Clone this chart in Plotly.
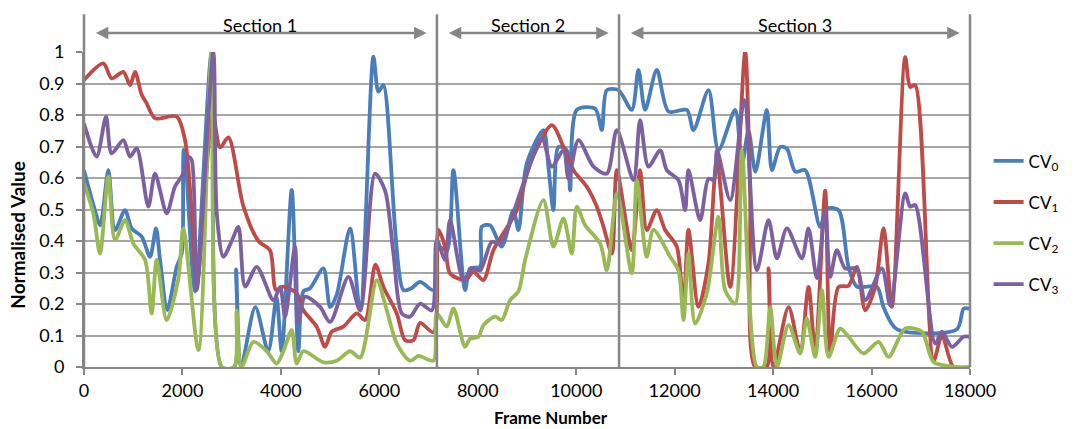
import plotly.graph_objects as go

# ---- data -------------------------------------------------------------
cv0_frames = [0, 200, 330, 494, 630, 833, 969, 1172, 1341, 1463, 1545, 1694, 1883, 1984, 2010,
              2025, 2060, 2256, 2594, 2800, 3050, 3090, 3190, 3480, 3743, 3910, 4016, 4220,
              4355, 4457, 4592, 4863, 5000, 5135, 5405, 5609, 5880, 5981, 6083, 6490, 6650,
              6828, 7100, 7200, 7370, 7505, 7742, 7844, 8047, 8081, 8250, 8487, 8724, 8826,
              8995, 9334, 9435, 9537, 9639, 9808, 9876, 10012, 10385, 10520, 10622, 10859,
              11129, 11264, 11400, 11637, 11874, 12247, 12382, 12687, 12890, 13229, 13365,
              13500, 13640, 13873, 13975, 14145, 14280, 14450, 14651, 14956, 15092, 15329,
              15532, 15702, 16108, 16243, 16514, 17734, 17870, 18000]
cv0_values = [0.625, 0.51, 0.45, 0.625, 0.435, 0.498, 0.44, 0.414, 0.35, 0.44, 0.34, 0.181, 0.318,
              0.36, 0.44, 0.69, 0.66, 0.24, 1.0, 0.0, 0.0, 0.31, 0.0, 0.19, 0.05, 0.22, 0.05,
              0.562, 0.05, 0.24, 0.25, 0.313, 0.19, 0.23, 0.44, 0.18, 0.985, 0.874, 0.895,
              0.244, 0.25, 0.27, 0.244, 0.382, 0.37, 0.625, 0.244, 0.313, 0.318, 0.445, 0.45,
              0.382, 0.498, 0.435, 0.646, 0.752, 0.636, 0.498, 0.699, 0.688, 0.561, 0.816,
              0.82, 0.752, 0.879, 0.879, 0.816, 0.943, 0.816, 0.943, 0.811, 0.816, 0.752,
              0.879, 0.688, 0.816, 0.64, 0.75, 0.62, 0.816, 0.625, 0.699, 0.693, 0.62, 0.625,
              0.445, 0.503, 0.498, 0.318, 0.255, 0.255, 0.19, 0.12, 0.12, 0.185, 0.185]

cv1_frames = [0, 393, 562, 799, 935, 1036, 1172, 1273, 1443, 1883, 2053, 2200, 2290, 2620, 2764,
              2934, 3238, 3543, 3780, 3900, 4050, 4321, 4457, 4728, 4897, 5033, 5270, 5541,
              5711, 5920, 6083, 6354, 6524, 6693, 6828, 7100, 7200, 7336, 7437, 7742, 7912,
              8115, 8318, 8793, 9064, 9504, 9741, 9944, 10215, 10419, 10555, 10724, 10825,
              11129, 11298, 11433, 11637, 11806, 12043, 12179, 12280, 12484, 12687, 12857,
              13128, 13432, 13533, 13635, 13870, 13907, 14009, 14314, 14550, 14719, 14855,
              15058, 15160, 15329, 15532, 15702, 15871, 16074, 16243, 16413, 16684, 16785,
              16887, 17260, 17430, 17666, 18000]
cv1_values = [0.911, 0.964, 0.916, 0.937, 0.895, 0.937, 0.864, 0.837, 0.79, 0.795, 0.72, 0.46,
              0.255, 0.8, 0.697, 0.729, 0.51, 0.40, 0.37, 0.245, 0.255, 0.234, 0.18, 0.128,
              0.064, 0.112, 0.128, 0.17, 0.149, 0.325, 0.254, 0.17, 0.085, 0.085, 0.14, 0.11,
              0.435, 0.382, 0.297, 0.276, 0.302, 0.276, 0.371, 0.498, 0.646, 0.768, 0.699,
              0.625, 0.572, 0.509, 0.445, 0.36, 0.625, 0.371, 0.625, 0.435, 0.498, 0.435,
              0.382, 0.191, 0.435, 0.191, 0.329, 0.657, 0.254, 1.0, 0.55, 0.0, 0.0, 0.313,
              0.0, 0.19, 0.05, 0.254, 0.05, 0.56, 0.05, 0.254, 0.258, 0.318, 0.18, 0.254,
              0.44, 0.191, 0.984, 0.889, 0.895, 0.02, 0.10, 0.0, 0.0]

cv2_frames = [0, 190, 325, 494, 630, 833, 1003, 1240, 1375, 1477, 1680, 1916, 2018, 2324, 2594,
              2800, 3050, 3100, 3200, 3443, 3714, 3915, 4050, 4220, 4321, 4457, 4863, 5135,
              5405, 5609, 5948, 6151, 6354, 6625, 6800, 7100, 7166, 7370, 7505, 7742, 7844,
              8013, 8115, 8352, 8487, 8656, 8826, 8962, 9334, 9537, 9741, 9910, 10012, 10182,
              10487, 10622, 10830, 11129, 11230, 11433, 11569, 11908, 12077, 12179, 12280,
              12416, 12653, 12890, 13025, 13229, 13365, 13670, 13800, 13941, 14077, 14314,
              14550, 14685, 14855, 14990, 15126, 15363, 15532, 15837, 16142, 16345, 16684,
              17023, 17260, 17734, 18000]
cv2_values = [0.583, 0.488, 0.36, 0.605, 0.403, 0.466, 0.392, 0.34, 0.17, 0.34, 0.149, 0.28,
              0.44, 0.054, 1.0, 0.0, 0.0, 0.18, 0.0, 0.08, 0.05, 0.011, 0.05, 0.117, 0.011,
              0.05, 0.015, 0.02, 0.05, 0.03, 0.276, 0.18, 0.074, 0.02, 0.035, 0.02, 0.17,
              0.128, 0.186, 0.064, 0.09, 0.096, 0.133, 0.16, 0.149, 0.212, 0.24, 0.34, 0.53,
              0.382, 0.472, 0.36, 0.509, 0.45, 0.392, 0.307, 0.551, 0.297, 0.593, 0.35,
              0.435, 0.35, 0.307, 0.149, 0.36, 0.138, 0.234, 0.477, 0.244, 0.201, 0.688, 0.0,
              0.0, 0.19, 0.0, 0.133, 0.043, 0.154, 0.032, 0.244, 0.032, 0.122, 0.096, 0.043,
              0.08, 0.032, 0.122, 0.112, 0.016, 0.0, 0.0]

cv3_frames = [0, 257, 447, 562, 799, 935, 1071, 1307, 1443, 1680, 1849, 2018, 2120, 2188, 2290,
              2628, 2697, 2832, 3001, 3137, 3272, 3509, 3849, 3985, 4084, 4287, 4355, 4491,
              4795, 5000, 5372, 5609, 5914, 6117, 6286, 6456, 6625, 6828, 7066, 7166, 7336,
              7437, 7708, 7878, 8047, 8284, 8453, 8928, 9301, 9504, 9741, 9842, 10046, 10351,
              10622, 10825, 11163, 11298, 11467, 11705, 11840, 12077, 12213, 12280, 12518,
              12687, 12800, 12860, 13128, 13412, 13670, 13907, 14077, 14280, 14583, 14719,
              14889, 15058, 15160, 15295, 15464, 15702, 15871, 16210, 16379, 16684, 16785,
              16887, 17294, 17430, 17633, 17870, 18000]
cv3_values = [0.773, 0.668, 0.795, 0.678, 0.72, 0.668, 0.694, 0.509, 0.614, 0.488, 0.573, 0.614,
              0.668, 0.657, 0.245, 1.0, 0.488, 0.35, 0.40, 0.445, 0.255, 0.318, 0.212, 0.254,
              0.16, 0.382, 0.143, 0.223, 0.191, 0.143, 0.286, 0.18, 0.614, 0.56, 0.36, 0.17,
              0.16, 0.201, 0.18, 0.403, 0.34, 0.466, 0.276, 0.313, 0.307, 0.397, 0.392, 0.583,
              0.726, 0.636, 0.688, 0.598, 0.72, 0.636, 0.614, 0.752, 0.593, 0.784, 0.636,
              0.688, 0.625, 0.593, 0.498, 0.625, 0.466, 0.598, 0.593, 0.688, 0.53, 0.847,
              0.307, 0.466, 0.345, 0.44, 0.345, 0.44, 0.282, 0.498, 0.286, 0.371, 0.313,
              0.313, 0.212, 0.313, 0.196, 0.551, 0.509, 0.514, 0.074, 0.112, 0.064, 0.096,
              0.096]

series_names = ["CV<sub>0</sub>", "CV<sub>1</sub>", "CV<sub>2</sub>", "CV<sub>3</sub>"]
series_colors = ["#4A7EBB", "#BE4B48", "#98B954", "#7D60A0"]

section_bounds = [0, 7170, 10870, 18000]
section_labels = ["Section 1", "Section 2", "Section 3"]

x_ticks = [0, 2000, 4000, 6000, 8000, 10000, 12000, 14000, 16000, 18000]
X_RANGE = [0, 18000]
Y_RANGE = [0, 1]

# ---- figure -----------------------------------------------------------
FONT = "Lato, 'Open Sans', sans-serif"
GRAY = "#868686"

fig = go.Figure()
all_frames = [cv0_frames, cv1_frames, cv2_frames, cv3_frames]
all_values = [cv0_values, cv1_values, cv2_values, cv3_values]
for name, color, xs, ys in zip(series_names, series_colors, all_frames, all_values):
    fig.add_trace(go.Scatter(
        x=xs, y=ys, name=name, mode="lines",
        line=dict(color=color, width=3.8, shape="spline", smoothing=0.8),
        legendgroup=name,
    ))


def to_paper_x(v):
    return (v - X_RANGE[0]) / (X_RANGE[1] - X_RANGE[0])


# vertical section dividers, reaching above the plotting area
shapes = []
for b in section_bounds:
    shapes.append(dict(type="line", xref="paper", yref="paper",
                       x0=to_paper_x(b), x1=to_paper_x(b), y0=0, y1=1.12,
                       line=dict(color=GRAY, width=2.5), layer="above"))

# double-headed arrows and section titles
annotations = []
pad = 210
for i, label in enumerate(section_labels):
    a, b = section_bounds[i], section_bounds[i + 1]
    annotations.append(dict(
        x=b - pad, y=1.06, xref="x", yref="paper",
        ax=a + pad, ay=0, axref="x", ayref="pixel",
        text="", showarrow=True, arrowside="end+start",
        arrowhead=2, startarrowhead=2, arrowsize=1, startarrowsize=1,
        arrowwidth=2.5, arrowcolor=GRAY, standoff=0, startstandoff=0,
    ))
    annotations.append(dict(
        x=(a + b) / 2, y=1.085, xref="x", yref="paper",
        xanchor="center", yanchor="middle",
        text=label, showarrow=False,
        font=dict(family=FONT, size=18, color="#000000"),
    ))

# axis titles
annotations.append(dict(
    x=0.527, y=-0.16, xref="paper", yref="paper", xanchor="center", yanchor="middle",
    text="<b>Frame Number</b>", showarrow=False,
    font=dict(family=FONT, size=17, color="#000000"),
))
annotations.append(dict(
    x=-0.0745, y=0.42, xref="paper", yref="paper", xanchor="center", yanchor="middle",
    text="<b>Normalised Value</b>", showarrow=False, textangle=-90,
    font=dict(family=FONT, size=19, color="#000000"),
))

fig.update_layout(
    width=1082, height=429,
    margin=dict(l=84, r=112, t=52, b=62),
    paper_bgcolor="white", plot_bgcolor="white",
    font=dict(family=FONT, size=18, color="#000000"),
    shapes=shapes, annotations=annotations,
    showlegend=True,
    legend=dict(x=1.021, y=0.71, xanchor="left", yanchor="top",
                traceorder="grouped", tracegroupgap=16,
                font=dict(family=FONT, size=17, color="#000000"),
                bgcolor="rgba(0,0,0,0)"),
)

fig.update_xaxes(
    range=X_RANGE, tickvals=x_ticks, ticktext=[str(t) for t in x_ticks],
    showgrid=False, zeroline=False,
    showline=True, linecolor=GRAY, linewidth=2,
    ticks="outside", ticklen=6, tickwidth=1.5, tickcolor=GRAY,
    tickfont=dict(family=FONT, size=18),
)
fig.update_yaxes(
    range=Y_RANGE, dtick=0.1, tick0=0,
    showgrid=True, gridcolor="#A6A6A6", gridwidth=2,
    zeroline=False,
    showline=True, linecolor=GRAY, linewidth=2,
    ticks="outside", ticklen=6, tickwidth=1.5, tickcolor=GRAY,
    ticklabelstandoff=8,
    tickfont=dict(family=FONT, size=18),
)

fig.write_html("out.html")
